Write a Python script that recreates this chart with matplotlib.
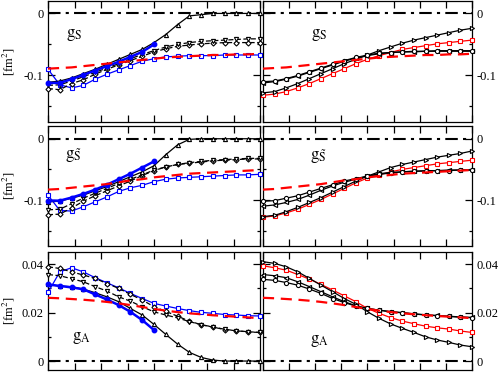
import matplotlib
matplotlib.use("Agg")
import matplotlib.pyplot as plt
from matplotlib.ticker import FixedLocator

plt.rcParams['font.family'] = ['Liberation Serif', 'DejaVu Serif']
plt.rcParams['mathtext.fontset'] = 'stix'

# x grid: 19 points per panel
x = [0, 1, 2, 3, 4, 5, 6, 7, 8, 9, 10, 11, 12, 13, 14, 15, 16, 17, 18]
x_short = [0, 1, 2, 3, 4, 5, 6, 7, 8, 9]
zero = [0.0] * 19

# ---- left column data ----
# top row: g_S
gS_red = [-0.089, -0.088, -0.087, -0.085, -0.083, -0.081, -0.079, -0.077, -0.075, -0.073,
          -0.071, -0.070, -0.069, -0.068, -0.067, -0.067, -0.066, -0.066, -0.065]
gS_tri_up = [-0.111, -0.109, -0.104, -0.097, -0.090, -0.082, -0.074, -0.066, -0.058, -0.047,
             -0.034, -0.018, -0.004, -0.002, 0.0, 0.0, 0.0, 0.0, 0.0]
gS_diam = [-0.121, -0.123, -0.113, -0.107, -0.098, -0.090, -0.083, -0.076, -0.069, -0.062,
           -0.057, -0.053, -0.051, -0.049, -0.048, -0.047, -0.047, -0.047, -0.047]
gS_tri_dn = [-0.116, -0.115, -0.109, -0.102, -0.095, -0.088, -0.081, -0.073, -0.066, -0.060,
             -0.054, -0.050, -0.047, -0.045, -0.044, -0.043, -0.042, -0.041, -0.041]
gS_blue_sq = [-0.090, -0.115, -0.120, -0.116, -0.106, -0.098, -0.091, -0.084, -0.077, -0.073,
              -0.070, -0.069, -0.068, -0.068, -0.068, -0.067, -0.067, -0.067, -0.067]
gS_blue_dot = [-0.112, -0.112, -0.106, -0.099, -0.092, -0.085, -0.078, -0.070, -0.062, -0.050]

# middle row: g_S~
gSt_red = [-0.083, -0.082, -0.080, -0.078, -0.076, -0.074, -0.071, -0.068, -0.066, -0.063,
           -0.061, -0.059, -0.057, -0.056, -0.055, -0.054, -0.053, -0.052, -0.051]
gSt_tri_up = [-0.103, -0.102, -0.097, -0.092, -0.085, -0.078, -0.070, -0.062, -0.054, -0.044,
              -0.026, -0.010, -0.001, 0.0, 0.0, 0.0, 0.0, 0.0, 0.0]
gSt_diam = [-0.124, -0.123, -0.113, -0.102, -0.093, -0.085, -0.077, -0.069, -0.060, -0.052,
            -0.046, -0.042, -0.040, -0.038, -0.036, -0.035, -0.034, -0.033, -0.033]
gSt_tri_dn = [-0.116, -0.115, -0.106, -0.097, -0.089, -0.081, -0.073, -0.066, -0.059, -0.051,
              -0.046, -0.042, -0.039, -0.037, -0.035, -0.034, -0.033, -0.032, -0.032]
gSt_blue_sq = [-0.092, -0.117, -0.118, -0.111, -0.103, -0.095, -0.086, -0.080, -0.076, -0.070,
               -0.066, -0.064, -0.063, -0.062, -0.061, -0.060, -0.059, -0.059, -0.058]
gSt_blue_dot = [-0.101, -0.101, -0.096, -0.090, -0.083, -0.075, -0.066, -0.057, -0.047, -0.037]

# bottom row: g_A
gA_red = [0.0261, 0.0259, 0.0256, 0.0253, 0.0249, 0.0244, 0.0238, 0.0231, 0.0223, 0.0215,
          0.0208, 0.0202, 0.0197, 0.0193, 0.0189, 0.0186, 0.0183, 0.0180, 0.0177]
gA_tri_up = [0.0316, 0.0309, 0.0307, 0.0297, 0.0282, 0.0265, 0.0245, 0.0217, 0.0190, 0.0151,
             0.0110, 0.0070, 0.0036, 0.0015, 0.0004, 0.0, 0.0, 0.0, 0.0]
gA_diam = [0.0389, 0.0382, 0.0368, 0.0355, 0.0341, 0.0320, 0.0300, 0.0275, 0.0252, 0.0224,
           0.0205, 0.0185, 0.0165, 0.0150, 0.0140, 0.0130, 0.0125, 0.0120, 0.0118]
gA_tri_dn = [0.0357, 0.0352, 0.0340, 0.0327, 0.0307, 0.0289, 0.0265, 0.0247, 0.0224, 0.0203,
             0.0190, 0.0178, 0.0163, 0.0150, 0.0141, 0.0131, 0.0125, 0.0121, 0.0118]
gA_blue_sq = [0.0283, 0.0368, 0.0385, 0.0368, 0.0344, 0.0323, 0.0302, 0.0279, 0.0258, 0.0238,
              0.0227, 0.0217, 0.0208, 0.0201, 0.0197, 0.0192, 0.0190, 0.0187, 0.0186]
gA_blue_dot = [0.0316, 0.0310, 0.0304, 0.0296, 0.0275, 0.0254, 0.0231, 0.0203, 0.0169, 0.0128]

# ---- right column data ----
gS_r_circ = [-0.110, -0.109, -0.105, -0.100, -0.094, -0.088, -0.082, -0.076, -0.071, -0.067,
             -0.064, -0.063, -0.062, -0.061, -0.061, -0.060, -0.060, -0.060, -0.060]
gS_r_tri_l = [-0.112, -0.110, -0.106, -0.101, -0.095, -0.089, -0.083, -0.077, -0.072, -0.068,
              -0.065, -0.063, -0.062, -0.062, -0.061, -0.061, -0.061, -0.061, -0.061]
gS_r_tri_r = [-0.128, -0.126, -0.120, -0.113, -0.105, -0.097, -0.089, -0.081, -0.074, -0.067,
              -0.060, -0.054, -0.048, -0.043, -0.039, -0.035, -0.031, -0.027, -0.024]
gS_r_red_sq = [-0.132, -0.130, -0.126, -0.120, -0.113, -0.105, -0.097, -0.089, -0.081, -0.074,
               -0.068, -0.063, -0.058, -0.055, -0.052, -0.049, -0.047, -0.045, -0.043]

gSt_r_circ = [-0.102, -0.101, -0.097, -0.093, -0.087, -0.081, -0.075, -0.069, -0.065, -0.061,
              -0.058, -0.056, -0.054, -0.053, -0.053, -0.052, -0.052, -0.051, -0.051]
gSt_r_tri_l = [-0.110, -0.108, -0.104, -0.099, -0.092, -0.084, -0.077, -0.071, -0.066, -0.061,
               -0.057, -0.055, -0.054, -0.053, -0.052, -0.052, -0.051, -0.051, -0.051]
gSt_r_tri_r = [-0.127, -0.125, -0.119, -0.112, -0.104, -0.096, -0.087, -0.078, -0.069, -0.061,
               -0.054, -0.047, -0.042, -0.038, -0.034, -0.030, -0.027, -0.024, -0.020]
gSt_r_red_sq = [-0.128, -0.126, -0.121, -0.115, -0.107, -0.099, -0.090, -0.081, -0.072, -0.064,
                -0.059, -0.054, -0.050, -0.047, -0.044, -0.041, -0.039, -0.037, -0.035]

gA_r_circ = [0.0337, 0.0333, 0.0324, 0.0313, 0.0297, 0.0279, 0.0258, 0.0241, 0.0227, 0.0217,
             0.0210, 0.0203, 0.0199, 0.0194, 0.0190, 0.0187, 0.0184, 0.0181, 0.0179]
gA_r_tri_l = [0.0357, 0.0352, 0.0344, 0.0327, 0.0307, 0.0286, 0.0265, 0.0245, 0.0228, 0.0217,
              0.0210, 0.0204, 0.0200, 0.0195, 0.0191, 0.0188, 0.0185, 0.0182, 0.0180]
gA_r_tri_r = [0.0410, 0.0403, 0.0389, 0.0368, 0.0341, 0.0313, 0.0286, 0.0258, 0.0234, 0.0203,
              0.0176, 0.0153, 0.0135, 0.0118, 0.0100, 0.0087, 0.0077, 0.0066, 0.0059]
gA_r_red_sq = [0.0393, 0.0385, 0.0375, 0.0357, 0.0338, 0.0316, 0.0293, 0.0269, 0.0245, 0.0217,
               0.0197, 0.0179, 0.0165, 0.0154, 0.0144, 0.0137, 0.0132, 0.0124, 0.0118]

labels = [r'$\mathrm{g}_{\mathrm{S}}$', r'$\mathrm{g}_{\tilde{\mathrm{S}}}$', r'$\mathrm{g}_{\mathrm{A}}$']

fig = plt.figure(figsize=(4.98, 3.73), dpi=100)

col_x = [(0.0964, 0.4257), (0.5281, 0.4197)]
row_y = [(0.6729, 0.3244), (0.3405, 0.3204), (0.0080, 0.3164)]

ms = 3.0
lw = 0.9
opn = dict(markerfacecolor='white', markersize=ms, markeredgewidth=0.8, clip_on=False)


def base_lines(ax, red):
    ax.plot(x, zero, color='black', lw=1.5, dashes=(6, 2.5, 1.5, 2.5), zorder=2)
    ax.plot(x, red, color='red', lw=1.6, dashes=(5, 3), zorder=5)


def style(ax, row, right):
    ax.set_xlim(0, 18)
    ax.xaxis.set_major_locator(FixedLocator([0, 2.25, 4.5, 6.75, 9, 11.25, 13.5, 15.75, 18]))
    if row < 2:
        ax.set_ylim(-0.175, 0.02)
        ax.set_yticks([-0.1, 0])
        ax.set_yticklabels(['-0.1', '0'])
        ax.yaxis.set_minor_locator(FixedLocator([-0.15, -0.05]))
    else:
        ax.set_ylim(-0.0037, 0.045)
        ax.set_yticks([0, 0.02, 0.04])
        ax.set_yticklabels(['0', '0.02', '0.04'])
        ax.yaxis.set_minor_locator(FixedLocator([0.01, 0.03]))
    ax.tick_params(which='both', direction='in', top=True, bottom=True, left=True, right=True,
                   labelbottom=False, labelleft=not right, labelright=right, labelsize=9,
                   width=0.9, pad=3)
    ax.tick_params(which='major', length=5)
    ax.tick_params(which='minor', length=2.5)
    for s in ax.spines.values():
        s.set_linewidth(0.9)


left_data = [
    (gS_red, gS_tri_up, gS_diam, gS_tri_dn, gS_blue_sq, gS_blue_dot),
    (gSt_red, gSt_tri_up, gSt_diam, gSt_tri_dn, gSt_blue_sq, gSt_blue_dot),
    (gA_red, gA_tri_up, gA_diam, gA_tri_dn, gA_blue_sq, gA_blue_dot),
]
right_data = [
    (gS_red, gS_r_circ, gS_r_tri_l, gS_r_tri_r, gS_r_red_sq),
    (gSt_red, gSt_r_circ, gSt_r_tri_l, gSt_r_tri_r, gSt_r_red_sq),
    (gA_red, gA_r_circ, gA_r_tri_l, gA_r_tri_r, gA_r_red_sq),
]
left_lab_pos = [(0.085, 0.72), (0.08, 0.75), (0.113, 0.27)]
right_lab_pos = [(0.23, 0.72), (0.225, 0.745), (0.225, 0.25)]

for r in range(3):
    # left panel
    ax = fig.add_axes([col_x[0][0], row_y[r][0], col_x[0][1], row_y[r][1]])
    red, tri_up, diam, tri_dn, blue_sq, blue_dot = left_data[r]
    base_lines(ax, red)
    ax.plot(x, blue_sq, color='blue', lw=lw, marker='s', markeredgecolor='blue',
            zorder=3, **opn)
    ax.plot(x, diam, color='black', lw=lw, dashes=(4, 2), marker='D', markersize=2.6,
            markerfacecolor='white', markeredgewidth=0.8, clip_on=False, zorder=3)
    ax.plot(x, tri_dn, color='black', lw=lw, dashes=(4, 2), marker='v',
            markerfacecolor='white', markersize=ms, markeredgewidth=0.8, clip_on=False, zorder=3)
    ax.plot(x, tri_up, color='black', lw=lw, marker='^', zorder=4, **opn)
    ax.plot(x_short, blue_dot, color='blue', lw=1.8, marker='o', markersize=3.2,
            clip_on=False, zorder=4)
    style(ax, r, False)
    ax.set_ylabel(r'[fm$^2$]', fontsize=9)
    ax.yaxis.set_label_coords(-0.145, 0.5)
    ax.text(left_lab_pos[r][0], left_lab_pos[r][1], labels[r], transform=ax.transAxes,
            fontsize=12, va='center', ha='left')

    # right panel
    ax = fig.add_axes([col_x[1][0], row_y[r][0], col_x[1][1], row_y[r][1]])
    red, circ, tri_l, tri_r, red_sq = right_data[r]
    base_lines(ax, red)
    ax.plot(x, red_sq, color='red', lw=lw, marker='s', markeredgecolor='red', zorder=3, **opn)
    ax.plot(x, tri_r, color='black', lw=lw, marker='>', zorder=4, **opn)
    ax.plot(x, tri_l, color='black', lw=lw, marker='<', zorder=4, **opn)
    ax.plot(x, circ, color='black', lw=lw, marker='o', zorder=4, **opn)
    style(ax, r, True)
    ax.text(right_lab_pos[r][0], right_lab_pos[r][1], labels[r], transform=ax.transAxes,
            fontsize=12, va='center', ha='left')

fig.savefig('out.png', dpi=100)
